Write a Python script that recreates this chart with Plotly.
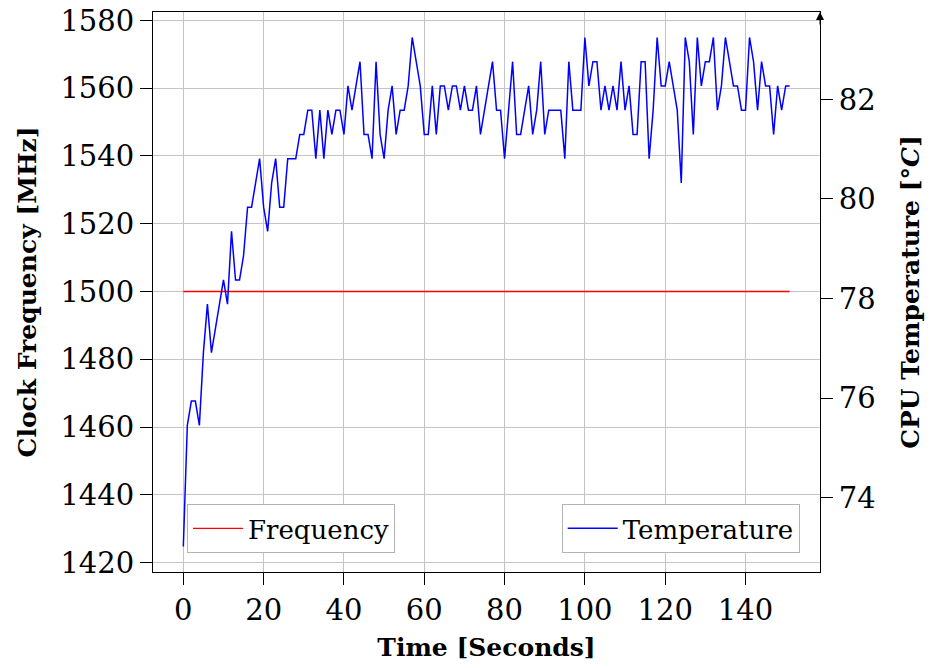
import plotly.graph_objects as go

# Sampling times in seconds
time_s = list(range(0, 152))

# Clock frequency held constant during the run (MHz)
frequency_mhz = [1500] * len(time_s)

# CPU temperature readings (degrees C), sensor resolution ~0.487 C
temperature_c = [
    73.017, 75.452, 75.939, 75.939, 75.452, 76.913, 77.887, 76.913, 77.400, 77.887,
    78.374, 77.887, 79.348, 78.374, 78.374, 78.861, 79.835, 79.835, 80.322, 80.809,
    79.835, 79.348, 80.322, 80.809, 79.835, 79.835, 80.809, 80.809, 80.809, 81.296,
    81.296, 81.783, 81.783, 80.809, 81.783, 80.809, 81.783, 81.296, 81.783, 81.783,
    81.296, 82.270, 81.783, 82.270, 82.757, 81.296, 81.296, 80.809, 82.757, 81.296,
    80.809, 81.783, 82.270, 81.296, 81.783, 81.783, 82.270, 83.244, 82.757, 82.270,
    81.296, 81.296, 82.270, 81.296, 82.270, 82.270, 81.783, 82.270, 82.270, 81.783,
    82.270, 81.783, 81.783, 82.270, 81.296, 81.783, 82.270, 82.757, 81.783, 81.783,
    80.809, 81.783, 82.757, 81.296, 81.296, 81.783, 82.270, 81.296, 81.783, 82.757,
    81.296, 81.783, 81.783, 81.783, 81.783, 80.809, 82.757, 81.783, 81.783, 81.783,
    83.244, 82.270, 82.757, 82.757, 81.783, 82.270, 81.783, 82.270, 81.783, 82.757,
    81.783, 82.270, 81.296, 81.296, 82.757, 82.757, 80.809, 81.783, 83.244, 82.270,
    82.270, 82.757, 82.270, 81.783, 80.322, 83.244, 82.757, 81.296, 83.244, 82.270,
    82.757, 82.757, 83.244, 81.783, 82.270, 83.244, 82.757, 82.270, 82.270, 81.783,
    81.783, 83.244, 82.757, 81.783, 82.757, 82.270, 82.270, 81.296, 82.270, 81.783,
    82.270, 82.270,
]

x_ticks = [0, 20, 40, 60, 80, 100, 120, 140]
freq_ticks = [1420, 1440, 1460, 1480, 1500, 1520, 1540, 1560, 1580]
temp_ticks = [74, 76, 78, 80, 82]

FONT = "DejaVu Serif"
GRID = "#c4c4c4"

fig = go.Figure()

fig.add_trace(go.Scatter(
    x=time_s, y=frequency_mhz, name="Frequency", mode="lines",
    line=dict(color="#ff0000", width=1.3), legend="legend",
))
fig.add_trace(go.Scatter(
    x=time_s, y=temperature_c, name="Temperature", mode="lines",
    line=dict(color="#0000ff", width=1.5), yaxis="y2", legend="legend2",
))

axis_common = dict(
    showline=True, linecolor="black", linewidth=1,
    ticks="outside", ticklen=12, tickcolor="black", tickwidth=1,
    tickfont=dict(family=FONT, size=29, color="black"),
    zeroline=False, automargin=False,
)

fig.update_layout(
    width=930, height=668,
    margin=dict(l=153, r=110, t=12, b=96),
    paper_bgcolor="white", plot_bgcolor="white",
    font=dict(family=FONT, color="black"),
    xaxis=dict(
        **axis_common, mirror=True,
        range=[-7.55, 158.55], tickvals=x_ticks,
        showgrid=True, gridcolor=GRID, gridwidth=1,
        title=dict(text="<b>Time [Seconds]</b>", font=dict(family=FONT, size=25), standoff=12),
    ),
    yaxis=dict(
        **axis_common, mirror=True,
        range=[1417.2, 1582.5], tickvals=freq_ticks,
        showgrid=True, gridcolor=GRID, gridwidth=1,
        title=dict(text="<b>Clock Frequency [MHz]</b>", font=dict(family=FONT, size=25), standoff=16),
    ),
    yaxis2=dict(
        **axis_common, overlaying="y", side="right",
        range=[72.506, 83.755], tickvals=temp_ticks,
        showgrid=False,
        title=dict(text="<b>CPU Temperature [°<i>C</i>]</b>", font=dict(family=FONT, size=25), standoff=26),
    ),
    legend=dict(
        x=0.051, y=0.034, xanchor="left", yanchor="bottom",
        bgcolor="white", bordercolor="#b4b4b4", borderwidth=1,
        font=dict(family=FONT, size=26), itemwidth=50,
    ),
    legend2=dict(
        x=0.9696, y=0.034, xanchor="right", yanchor="bottom",
        bgcolor="white", bordercolor="#b4b4b4", borderwidth=1,
        font=dict(family=FONT, size=26), itemwidth=50,
    ),
    showlegend=True,
)

# Arrow tip on the right-hand axis line
fig.add_annotation(
    x=1, y=1, xref="paper", yref="paper", ax=0, ay=14,
    showarrow=True, arrowhead=2, arrowsize=1.6, arrowwidth=1, arrowcolor="black", text="",
)

fig.write_html("out.html")
